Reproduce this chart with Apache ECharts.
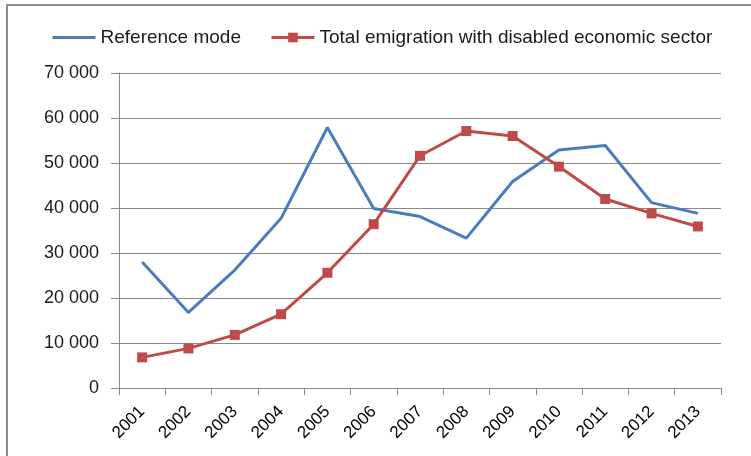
<!DOCTYPE html>
<html>
<head>
<meta charset="utf-8">
<script src="https://cdn.jsdelivr.net/npm/echarts@6/dist/echarts.min.js"></script>
<style>
  html, body { margin: 0; padding: 0; background: #fff; }
  #chart { width: 751px; height: 456px; }
</style>
</head>
<body>
<div id="chart"></div>
<script>
// Years on the category axis
const years = ['2001', '2002', '2003', '2004', '2005', '2006', '2007',
               '2008', '2009', '2010', '2011', '2012', '2013'];

// Reference mode run
const referenceMode = [28000, 16800, 26200, 37700, 57900, 39900, 38100,
                       33300, 45900, 52900, 53900, 41200, 38800];

// Total emigration with the economic sector disabled
const disabledEconomic = [6800, 8800, 11800, 16400, 25600, 36400, 51600,
                          57100, 56000, 49200, 42000, 38800, 35900];

const seriesNames = ['Reference mode', 'Total emigration with disabled economic sector'];

const FONT = '"Liberation Sans", Arial, sans-serif';

// thousands separated by a space: 70000 -> "70 000"
function fmt(v) {
  const s = String(v);
  return s.length > 3 ? s.slice(0, s.length - 3) + ' ' + s.slice(-3) : s;
}

const chart = echarts.init(document.getElementById('chart'), null, { renderer: 'canvas' });

chart.setOption({
  animation: false,
  backgroundColor: '#ffffff',
  graphic: [{
    type: 'rect',
    shape: { x: 7, y: 5, width: 900, height: 600 },
    style: { fill: 'none', stroke: '#8c8c8c', lineWidth: 2 },
    silent: true
  }],
  legend: {
    top: 23,
    left: 46,
    itemWidth: 43,
    itemHeight: 12,
    itemGap: 29,
    textStyle: { fontFamily: FONT, fontSize: 19, color: '#1a1a1a' },
    data: [
      { name: seriesNames[0], itemStyle: { opacity: 0 }, lineStyle: { width: 3 } },
      { name: seriesNames[1], lineStyle: { width: 3 } }
    ]
  },
  grid: { left: 119, right: 30, top: 73, bottom: 68, containLabel: false },
  xAxis: {
    type: 'category',
    data: years,
    boundaryGap: true,
    axisLine: { lineStyle: { color: '#8a8a8a', width: 1 } },
    axisTick: { show: true, length: 7, lineStyle: { color: '#8a8a8a' } },
    axisLabel: {
      rotate: 45,
      fontFamily: FONT,
      fontSize: 17,
      color: '#000',
      margin: 21
    }
  },
  yAxis: {
    type: 'value',
    min: 0,
    max: 70000,
    interval: 10000,
    axisLine: { show: true, lineStyle: { color: '#8a8a8a', width: 1 } },
    axisTick: { show: true, length: 8, lineStyle: { color: '#8a8a8a' } },
    splitLine: { show: true, lineStyle: { color: '#8a8a8a', width: 1 } },
    axisLabel: {
      fontFamily: FONT,
      fontSize: 18,
      color: '#1a1a1a',
      margin: 20,
      formatter: fmt
    }
  },
  series: [
    {
      name: seriesNames[0],
      type: 'line',
      data: referenceMode,
      symbol: 'none',
      lineStyle: { color: '#4a7ebb', width: 3 },
      itemStyle: { color: '#4a7ebb' }
    },
    {
      name: seriesNames[1],
      type: 'line',
      data: disabledEconomic,
      symbol: 'rect',
      symbolSize: 10,
      lineStyle: { color: '#be4b48', width: 3 },
      itemStyle: { color: '#be4b48' }
    }
  ]
});
</script>
</body>
</html>
